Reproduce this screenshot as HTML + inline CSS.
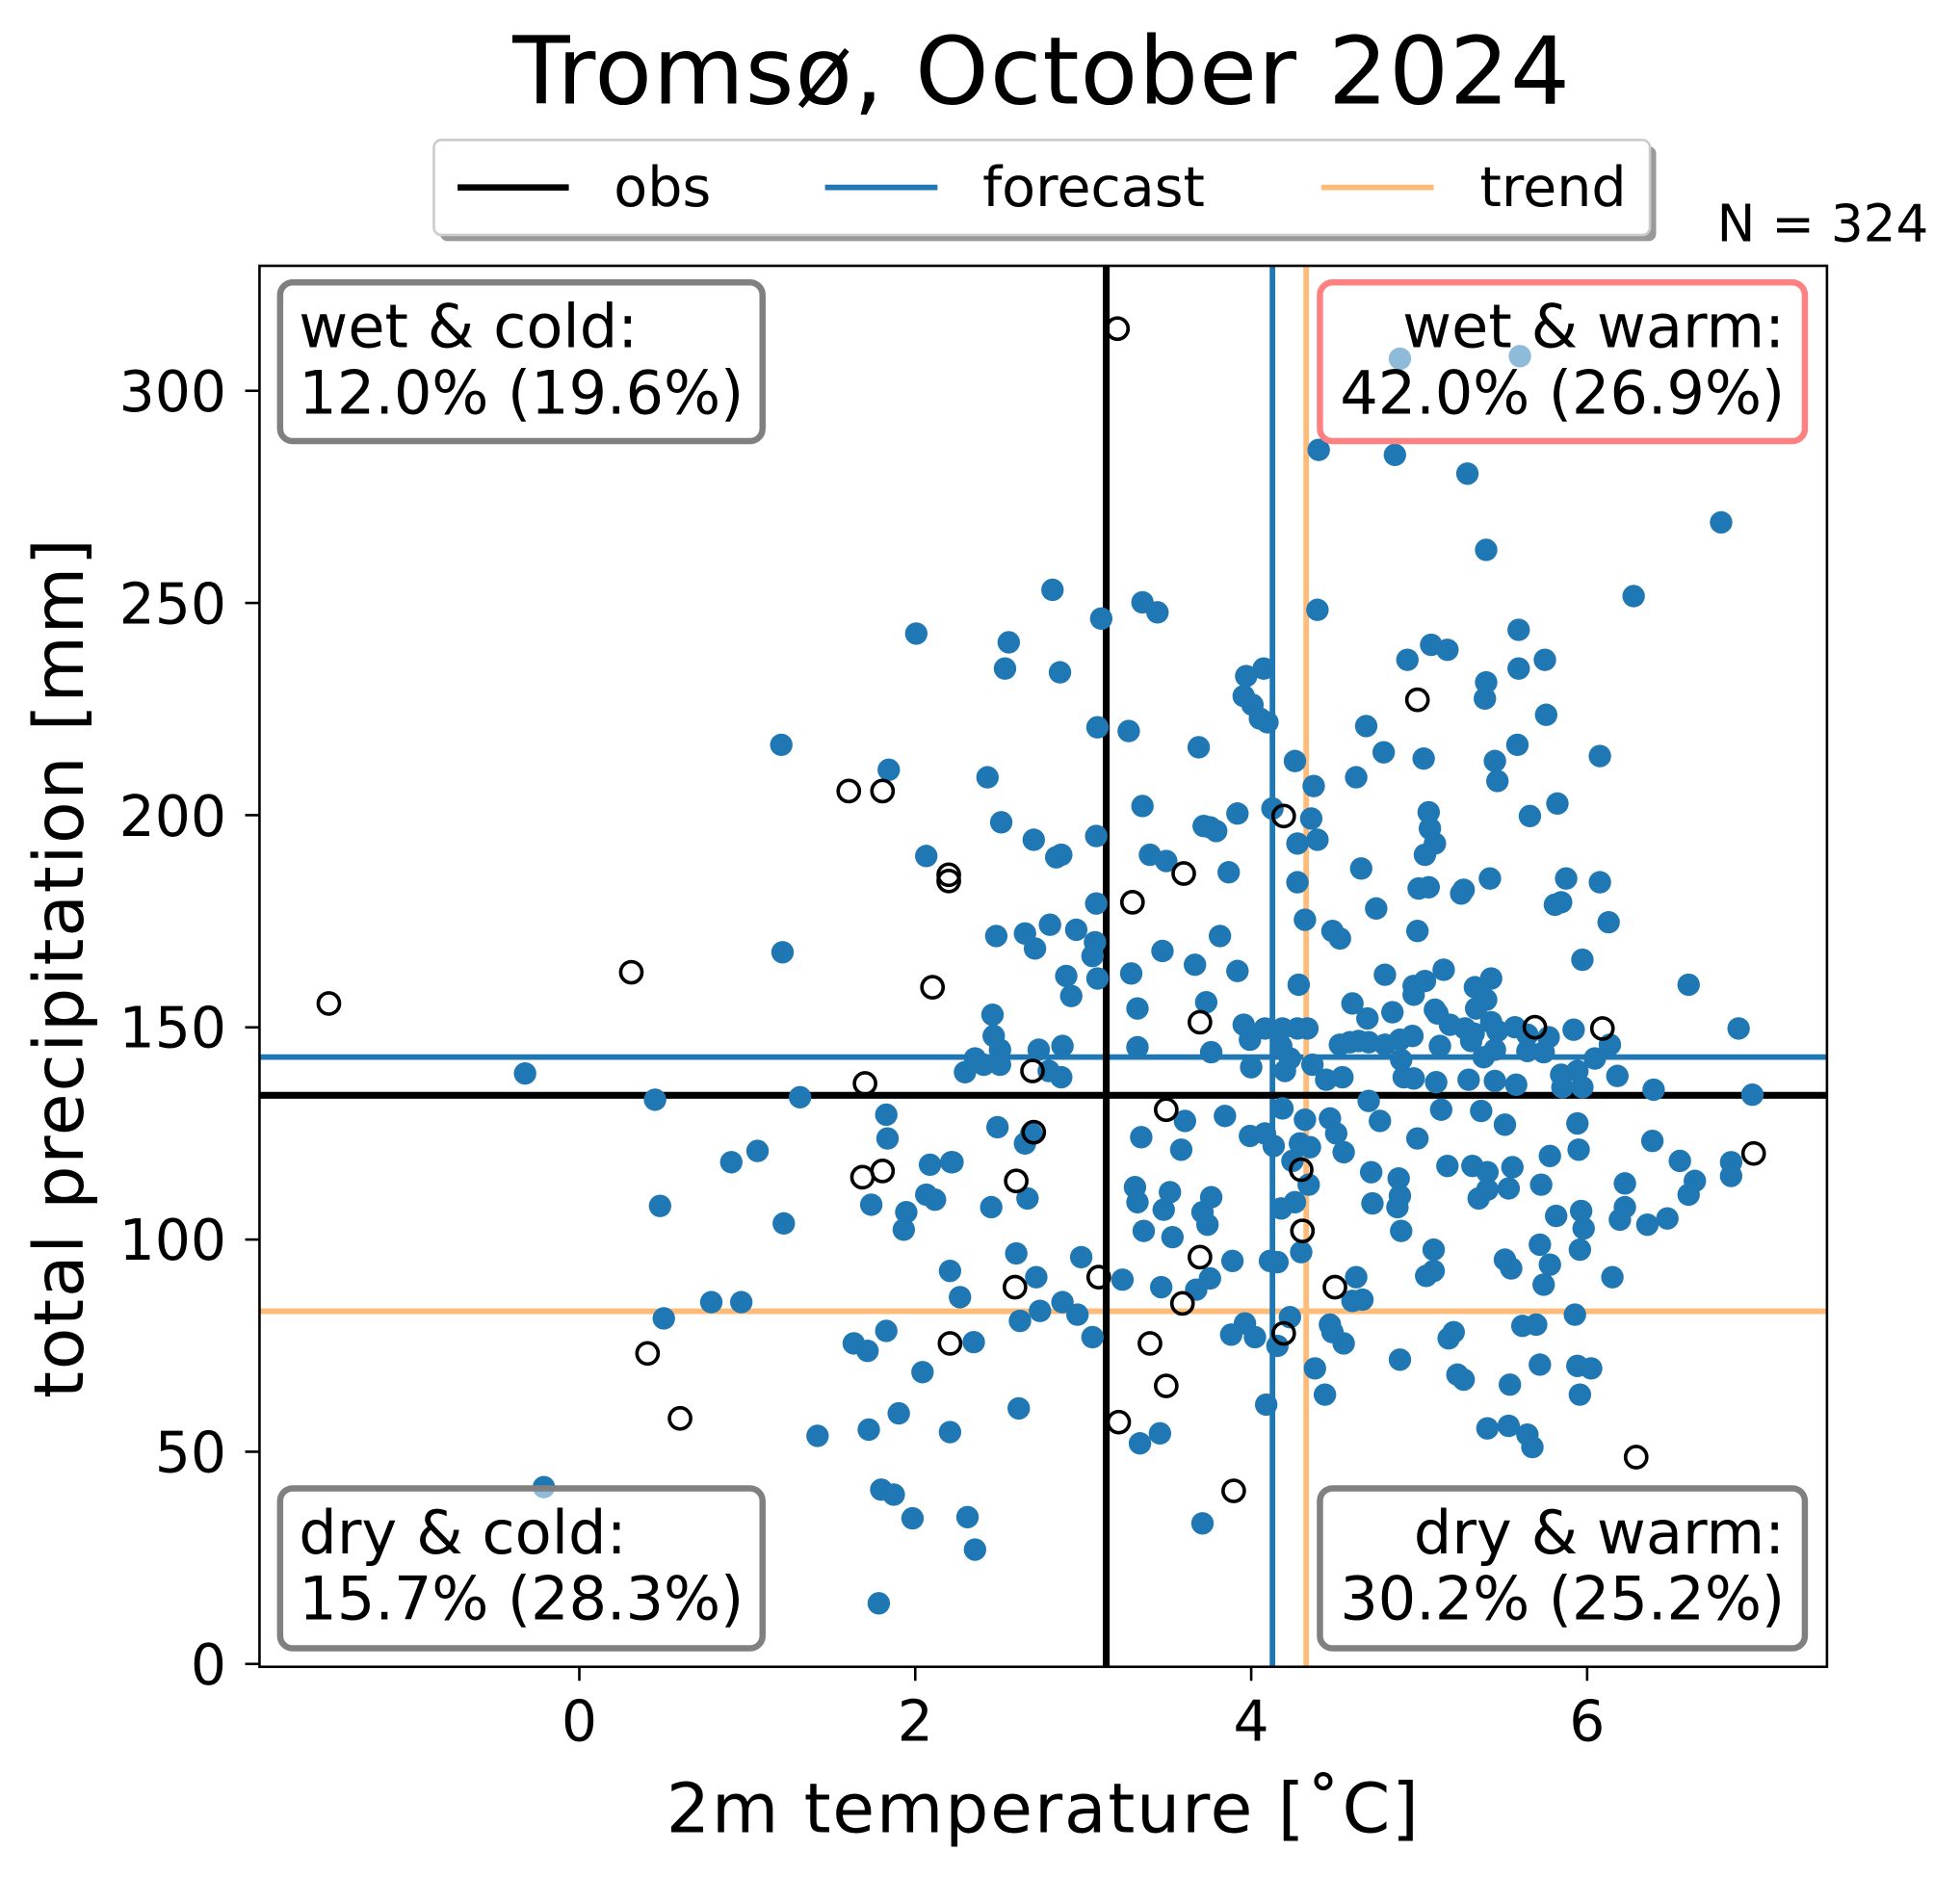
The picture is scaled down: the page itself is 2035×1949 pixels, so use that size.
<!DOCTYPE html>
<html><head><meta charset="utf-8"><style>html,body{margin:0;padding:0;background:#fff}svg{display:block}</style></head>
<body>
<svg width="2035" height="1949" viewBox="0 0 1568 1502" xmlns="http://www.w3.org/2000/svg" font-family="DejaVu Sans, Liberation Sans, sans-serif">
<rect width="1568" height="1502" fill="#fff"/>
<text x="833" y="83" font-size="75" text-anchor="middle" textLength="846">Tromsø, October 2024</text>
<!-- legend -->
<rect x="352" y="117" width="973" height="76" rx="6" fill="#999"/>
<rect x="347" y="112" width="973" height="76" rx="6" fill="#fff" stroke="#ccc" stroke-width="2"/>
<line x1="366" y1="150" x2="455" y2="150" stroke="#000" stroke-width="5"/>
<text x="491" y="165" font-size="44">obs</text>
<line x1="660" y1="150" x2="750" y2="150" stroke="#1f77b4" stroke-width="4.5"/>
<text x="786" y="165" font-size="44">forecast</text>
<line x1="1057" y1="150" x2="1147" y2="150" stroke="#ffbb78" stroke-width="4.5"/>
<text x="1184" y="165" font-size="44">trend</text>
<text x="1543" y="193" font-size="41" text-anchor="end">N = 324</text>
<!-- lines -->
<g stroke-width="4.5">
<line x1="207.5" y1="845.9" x2="1461.7" y2="845.9" stroke="#1f77b4"/>
<line x1="207.5" y1="1049.3" x2="1461.7" y2="1049.3" stroke="#ffbb78"/>
<line x1="1018" y1="212.7" x2="1018" y2="1333.8" stroke="#1f77b4"/>
<line x1="1045" y1="212.7" x2="1045" y2="1333.8" stroke="#ffbb78"/>
<line x1="207.5" y1="876.5" x2="1461.7" y2="876.5" stroke="#000" stroke-width="5.5"/>
<line x1="885" y1="212.7" x2="885" y2="1333.8" stroke="#000" stroke-width="5.5"/>
</g>
<!-- points -->
<g fill="#1f77b4">
<circle cx="1120" cy="287" r="9"/><circle cx="1216" cy="285" r="9"/><circle cx="1055" cy="360" r="9"/><circle cx="1116" cy="364" r="9"/><circle cx="1174" cy="379" r="9"/><circle cx="1377" cy="418" r="9"/><circle cx="1189" cy="440" r="9"/><circle cx="842" cy="472" r="9"/><circle cx="914" cy="482" r="9"/><circle cx="926" cy="490" r="9"/><circle cx="1054" cy="488" r="9"/><circle cx="881" cy="495" r="9"/><circle cx="1307" cy="477" r="9"/><circle cx="733" cy="507" r="9"/><circle cx="807" cy="514" r="9"/><circle cx="1145" cy="516" r="9"/><circle cx="1158" cy="520" r="9"/><circle cx="1126" cy="528" r="9"/><circle cx="1215" cy="504" r="9"/><circle cx="1236" cy="528" r="9"/><circle cx="804" cy="535" r="9"/><circle cx="848" cy="538" r="9"/><circle cx="1189" cy="546" r="9"/><circle cx="997" cy="541" r="9"/><circle cx="1011" cy="535" r="9"/><circle cx="995" cy="557" r="9"/><circle cx="1002" cy="564" r="9"/><circle cx="1008" cy="575" r="9"/><circle cx="1014" cy="578" r="9"/><circle cx="1093" cy="581" r="9"/><circle cx="1215" cy="535" r="9"/><circle cx="1188" cy="559" r="9"/><circle cx="1237" cy="572" r="9"/><circle cx="878" cy="582" r="9"/><circle cx="903" cy="585" r="9"/><circle cx="625" cy="596" r="9"/><circle cx="711" cy="616" r="9"/><circle cx="959" cy="598" r="9"/><circle cx="1196" cy="609" r="9"/><circle cx="1214" cy="596" r="9"/><circle cx="1280" cy="605" r="9"/><circle cx="1036" cy="609" r="9"/><circle cx="1139" cy="607" r="9"/><circle cx="1107" cy="602" r="9"/><circle cx="1198" cy="625" r="9"/><circle cx="790" cy="622" r="9"/><circle cx="914" cy="645" r="9"/><circle cx="1051" cy="629" r="9"/><circle cx="1085" cy="622" r="9"/><circle cx="1018" cy="647" r="9"/><circle cx="990" cy="651" r="9"/><circle cx="963" cy="661" r="9"/><circle cx="1049" cy="655" r="9"/><circle cx="1143" cy="650" r="9"/><circle cx="1144" cy="663" r="9"/><circle cx="1148" cy="675" r="9"/><circle cx="1224" cy="653" r="9"/><circle cx="1246" cy="643" r="9"/><circle cx="801" cy="658" r="9"/><circle cx="741" cy="685" r="9"/><circle cx="827" cy="672" r="9"/><circle cx="849" cy="684" r="9"/><circle cx="845" cy="686" r="9"/><circle cx="877" cy="669" r="9"/><circle cx="920" cy="684" r="9"/><circle cx="933" cy="689" r="9"/><circle cx="968" cy="662" r="9"/><circle cx="973" cy="665" r="9"/><circle cx="983" cy="698" r="9"/><circle cx="1038" cy="675" r="9"/><circle cx="1054" cy="672" r="9"/><circle cx="1089" cy="695" r="9"/><circle cx="1140" cy="684" r="9"/><circle cx="1135" cy="711" r="9"/><circle cx="1143" cy="710" r="9"/><circle cx="1169" cy="715" r="9"/><circle cx="1171" cy="712" r="9"/><circle cx="1192" cy="703" r="9"/><circle cx="1253" cy="703" r="9"/><circle cx="1280" cy="706" r="9"/><circle cx="1038" cy="706" r="9"/><circle cx="1101" cy="727" r="9"/><circle cx="1134" cy="745" r="9"/><circle cx="797" cy="749" r="9"/><circle cx="820" cy="747" r="9"/><circle cx="828" cy="759" r="9"/><circle cx="840" cy="740" r="9"/><circle cx="861" cy="744" r="9"/><circle cx="876" cy="754" r="9"/><circle cx="877" cy="723" r="9"/><circle cx="874" cy="765" r="9"/><circle cx="976" cy="749" r="9"/><circle cx="930" cy="761" r="9"/><circle cx="1044" cy="736" r="9"/><circle cx="1066" cy="745" r="9"/><circle cx="1072" cy="751" r="9"/><circle cx="1287" cy="738" r="9"/><circle cx="1244" cy="724" r="9"/><circle cx="1249" cy="722" r="9"/><circle cx="626" cy="762" r="9"/><circle cx="853" cy="781" r="9"/><circle cx="878" cy="783" r="9"/><circle cx="905" cy="779" r="9"/><circle cx="956" cy="772" r="9"/><circle cx="990" cy="777" r="9"/><circle cx="1039" cy="788" r="9"/><circle cx="1108" cy="780" r="9"/><circle cx="1131" cy="789" r="9"/><circle cx="1140" cy="785" r="9"/><circle cx="1155" cy="776" r="9"/><circle cx="1180" cy="790" r="9"/><circle cx="1193" cy="783" r="9"/><circle cx="1266" cy="768" r="9"/><circle cx="1351" cy="788" r="9"/><circle cx="1189" cy="800" r="9"/><circle cx="1131" cy="796" r="9"/><circle cx="1181" cy="807" r="9"/><circle cx="1179" cy="827" r="9"/><circle cx="1193" cy="818" r="9"/><circle cx="1114" cy="810" r="9"/><circle cx="1082" cy="803" r="9"/><circle cx="1094" cy="815" r="9"/><circle cx="794" cy="812" r="9"/><circle cx="857" cy="797" r="9"/><circle cx="910" cy="807" r="9"/><circle cx="965" cy="802" r="9"/><circle cx="995" cy="820" r="9"/><circle cx="1012" cy="823" r="9"/><circle cx="1026" cy="823" r="9"/><circle cx="1038" cy="823" r="9"/><circle cx="1046" cy="823" r="9"/><circle cx="1072" cy="836" r="9"/><circle cx="1080" cy="834" r="9"/><circle cx="1095" cy="834" r="9"/><circle cx="1108" cy="836" r="9"/><circle cx="1120" cy="832" r="9"/><circle cx="1130" cy="829" r="9"/><circle cx="1150" cy="811" r="9"/><circle cx="1160" cy="820" r="9"/><circle cx="1172" cy="823" r="9"/><circle cx="1177" cy="833" r="9"/><circle cx="1198" cy="825" r="9"/><circle cx="1212" cy="822" r="9"/><circle cx="1222" cy="828" r="9"/><circle cx="1239" cy="830" r="9"/><circle cx="1259" cy="824" r="9"/><circle cx="1288" cy="836" r="9"/><circle cx="1391" cy="823" r="9"/><circle cx="1235" cy="842" r="9"/><circle cx="1196" cy="840" r="9"/><circle cx="1262" cy="857" r="9"/><circle cx="1249" cy="860" r="9"/><circle cx="1276" cy="847" r="9"/><circle cx="1148" cy="808" r="9"/><circle cx="795" cy="829" r="9"/><circle cx="850" cy="837" r="9"/><circle cx="831" cy="840" r="9"/><circle cx="800" cy="840" r="9"/><circle cx="780" cy="847" r="9"/><circle cx="772" cy="858" r="9"/><circle cx="839" cy="857" r="9"/><circle cx="800" cy="852" r="9"/><circle cx="787" cy="852" r="9"/><circle cx="910" cy="838" r="9"/><circle cx="969" cy="842" r="9"/><circle cx="1000" cy="832" r="9"/><circle cx="1025" cy="837" r="9"/><circle cx="1001" cy="854" r="9"/><circle cx="1050" cy="852" r="9"/><circle cx="1032" cy="847" r="9"/><circle cx="1087" cy="833" r="9"/><circle cx="1121" cy="848" r="9"/><circle cx="1123" cy="862" r="9"/><circle cx="1152" cy="837" r="9"/><circle cx="1187" cy="846" r="9"/><circle cx="1196" cy="865" r="9"/><circle cx="1222" cy="841" r="9"/>
<circle cx="420" cy="859" r="9"/><circle cx="524" cy="880" r="9"/><circle cx="640" cy="878" r="9"/><circle cx="849" cy="862" r="9"/><circle cx="1028" cy="857" r="9"/><circle cx="1061" cy="864" r="9"/><circle cx="1095" cy="881" r="9"/><circle cx="1074" cy="862" r="9"/><circle cx="1131" cy="863" r="9"/><circle cx="1149" cy="866" r="9"/><circle cx="1175" cy="864" r="9"/><circle cx="1213" cy="868" r="9"/><circle cx="1250" cy="870" r="9"/><circle cx="1323" cy="872" r="9"/><circle cx="1402" cy="876" r="9"/><circle cx="1266" cy="870" r="9"/><circle cx="1153" cy="888" r="9"/><circle cx="1026" cy="887" r="9"/><circle cx="1044" cy="896" r="9"/><circle cx="1064" cy="895" r="9"/><circle cx="1104" cy="897" r="9"/><circle cx="1185" cy="889" r="9"/><circle cx="1204" cy="900" r="9"/><circle cx="1262" cy="899" r="9"/><circle cx="1294" cy="861" r="9"/><circle cx="980" cy="893" r="9"/><circle cx="948" cy="897" r="9"/><circle cx="913" cy="910" r="9"/><circle cx="798" cy="902" r="9"/><circle cx="825" cy="907" r="9"/><circle cx="709" cy="892" r="9"/><circle cx="606" cy="921" r="9"/><circle cx="585" cy="930" r="9"/><circle cx="710" cy="911" r="9"/><circle cx="744" cy="932" r="9"/><circle cx="761" cy="930" r="9"/><circle cx="820" cy="915" r="9"/><circle cx="1040" cy="915" r="9"/><circle cx="1048" cy="918" r="9"/><circle cx="1069" cy="907" r="9"/><circle cx="1075" cy="922" r="9"/><circle cx="1134" cy="911" r="9"/><circle cx="1158" cy="933" r="9"/><circle cx="1178" cy="933" r="9"/><circle cx="1190" cy="938" r="9"/><circle cx="1210" cy="934" r="9"/><circle cx="1240" cy="925" r="9"/><circle cx="1263" cy="920" r="9"/><circle cx="1344" cy="929" r="9"/><circle cx="1385" cy="930" r="9"/><circle cx="1356" cy="945" r="9"/><circle cx="1385" cy="941" r="9"/><circle cx="1000" cy="909" r="9"/><circle cx="1012" cy="907" r="9"/><circle cx="1019" cy="917" r="9"/><circle cx="1034" cy="929" r="9"/><circle cx="1097" cy="938" r="9"/><circle cx="1119" cy="943" r="9"/><circle cx="1098" cy="963" r="9"/><circle cx="1120" cy="957" r="9"/><circle cx="1190" cy="952" r="9"/><circle cx="1183" cy="959" r="9"/><circle cx="1207" cy="951" r="9"/><circle cx="1233" cy="948" r="9"/><circle cx="1322" cy="913" r="9"/><circle cx="1265" cy="969" r="9"/><circle cx="1245" cy="973" r="9"/><circle cx="1267" cy="983" r="9"/><circle cx="1296" cy="976" r="9"/><circle cx="1318" cy="980" r="9"/><circle cx="1351" cy="956" r="9"/><circle cx="1300" cy="947" r="9"/><circle cx="1300" cy="966" r="9"/><circle cx="1334" cy="975" r="9"/><circle cx="1232" cy="996" r="9"/><circle cx="1204" cy="1008" r="9"/><circle cx="1240" cy="1012" r="9"/><circle cx="1209" cy="1015" r="9"/><circle cx="1235" cy="1028" r="9"/><circle cx="1290" cy="1022" r="9"/><circle cx="1264" cy="1000" r="9"/><circle cx="1260" cy="1052" r="9"/><circle cx="1218" cy="1061" r="9"/><circle cx="1229" cy="1060" r="9"/><circle cx="1232" cy="1092" r="9"/><circle cx="1208" cy="1108" r="9"/><circle cx="1207" cy="1141" r="9"/><circle cx="1222" cy="1148" r="9"/><circle cx="1226" cy="1158" r="9"/><circle cx="1262" cy="1093" r="9"/><circle cx="1264" cy="1116" r="9"/><circle cx="1273" cy="1095" r="9"/><circle cx="1190" cy="1143" r="9"/><circle cx="1166" cy="1100" r="9"/><circle cx="1171" cy="1104" r="9"/><circle cx="1159" cy="1071" r="9"/><circle cx="1163" cy="1066" r="9"/><circle cx="1147" cy="1017" r="9"/><circle cx="1147" cy="1000" r="9"/><circle cx="1141" cy="1021" r="9"/><circle cx="1121" cy="985" r="9"/><circle cx="1118" cy="966" r="9"/><circle cx="1120" cy="1088" r="9"/><circle cx="1082" cy="1041" r="9"/><circle cx="1085" cy="1022" r="9"/><circle cx="1090" cy="1040" r="9"/><circle cx="1075" cy="1075" r="9"/><circle cx="1064" cy="1060" r="9"/><circle cx="1066" cy="1066" r="9"/><circle cx="1060" cy="1116" r="9"/><circle cx="1052" cy="1095" r="9"/><circle cx="1032" cy="1054" r="9"/><circle cx="1016" cy="1009" r="9"/><circle cx="1004" cy="1070" r="9"/><circle cx="996" cy="1059" r="9"/><circle cx="985" cy="1068" r="9"/><circle cx="986" cy="1009" r="9"/><circle cx="969" cy="958" r="9"/><circle cx="966" cy="980" r="9"/><circle cx="968" cy="1023" r="9"/><circle cx="962" cy="970" r="9"/><circle cx="945" cy="920" r="9"/><circle cx="936" cy="954" r="9"/><circle cx="908" cy="950" r="9"/><circle cx="910" cy="962" r="9"/><circle cx="931" cy="968" r="9"/><circle cx="915" cy="985" r="9"/><circle cx="938" cy="990" r="9"/><circle cx="957" cy="1032" r="9"/><circle cx="929" cy="1030" r="9"/><circle cx="912" cy="1155" r="9"/><circle cx="928" cy="1147" r="9"/><circle cx="962" cy="1219" r="9"/><circle cx="898" cy="1024" r="9"/><circle cx="862" cy="1052" r="9"/><circle cx="865" cy="1006" r="9"/><circle cx="874" cy="1070" r="9"/><circle cx="850" cy="1042" r="9"/><circle cx="829" cy="1022" r="9"/><circle cx="832" cy="1049" r="9"/><circle cx="816" cy="1057" r="9"/><circle cx="815" cy="1127" r="9"/><circle cx="813" cy="1003" r="9"/><circle cx="822" cy="959" r="9"/><circle cx="793" cy="966" r="9"/><circle cx="779" cy="1074" r="9"/><circle cx="774" cy="1214" r="9"/><circle cx="780" cy="1240" r="9"/><circle cx="768" cy="1038" r="9"/><circle cx="762" cy="930" r="9"/><circle cx="760" cy="1017" r="9"/><circle cx="760" cy="1146" r="9"/><circle cx="748" cy="960" r="9"/><circle cx="741" cy="956" r="9"/><circle cx="738" cy="1098" r="9"/><circle cx="730" cy="1215" r="9"/><circle cx="725" cy="970" r="9"/><circle cx="723" cy="984" r="9"/><circle cx="719" cy="1131" r="9"/><circle cx="715" cy="1196" r="9"/><circle cx="705" cy="1192" r="9"/><circle cx="709" cy="1065" r="9"/><circle cx="695" cy="1144" r="9"/><circle cx="694" cy="1081" r="9"/><circle cx="683" cy="1075" r="9"/><circle cx="697" cy="964" r="9"/><circle cx="703" cy="1283" r="9"/><circle cx="654" cy="1149" r="9"/><circle cx="627" cy="979" r="9"/><circle cx="593" cy="1042" r="9"/><circle cx="569" cy="1042" r="9"/><circle cx="531" cy="1055" r="9"/><circle cx="528" cy="965" r="9"/><circle cx="435" cy="1190" r="9"/><circle cx="1041" cy="1002" r="9"/><circle cx="1022" cy="1010" r="9"/><circle cx="1025" cy="967" r="9"/><circle cx="1036" cy="962" r="9"/><circle cx="1047" cy="948" r="9"/><circle cx="1013" cy="1124" r="9"/><circle cx="1022" cy="1077" r="9"/>
</g>
<g fill="none" stroke="#000" stroke-width="2.8">
<circle cx="894" cy="263" r="8.5"/><circle cx="1134" cy="560" r="8.5"/><circle cx="679" cy="633" r="8.5"/><circle cx="706" cy="633" r="8.5"/><circle cx="1027" cy="653" r="8.5"/><circle cx="759" cy="700" r="8.5"/><circle cx="759" cy="705" r="8.5"/><circle cx="947" cy="699" r="8.5"/><circle cx="906" cy="722" r="8.5"/><circle cx="505" cy="778" r="8.5"/><circle cx="746" cy="790" r="8.5"/><circle cx="263" cy="803" r="8.5"/><circle cx="960" cy="818" r="8.5"/><circle cx="1228" cy="822" r="8.5"/><circle cx="1282" cy="823" r="8.5"/><circle cx="826" cy="857" r="8.5"/><circle cx="692" cy="867" r="8.5"/><circle cx="933" cy="888" r="8.5"/><circle cx="827" cy="906" r="8.5"/><circle cx="1041" cy="936" r="8.5"/><circle cx="690" cy="942" r="8.5"/><circle cx="706" cy="937" r="8.5"/><circle cx="813" cy="945" r="8.5"/><circle cx="1403" cy="923" r="8.5"/><circle cx="1042" cy="985" r="8.5"/><circle cx="960" cy="1006" r="8.5"/><circle cx="879" cy="1022" r="8.5"/><circle cx="812" cy="1030" r="8.5"/><circle cx="1068" cy="1030" r="8.5"/><circle cx="946" cy="1043" r="8.5"/><circle cx="1027" cy="1067" r="8.5"/><circle cx="760" cy="1075" r="8.5"/><circle cx="920" cy="1075" r="8.5"/><circle cx="518" cy="1083" r="8.5"/><circle cx="933" cy="1109" r="8.5"/><circle cx="544" cy="1135" r="8.5"/><circle cx="895" cy="1138" r="8.5"/><circle cx="1309" cy="1166" r="8.5"/><circle cx="987" cy="1193" r="8.5"/>
</g>
<!-- quadrant boxes -->
<g stroke-width="5" fill="#fff" fill-opacity="0.5">
<rect x="224" y="226" width="386" height="127" rx="10" stroke="#808080"/>
<rect x="1056" y="226" width="388" height="127" rx="10" stroke="#ff8080"/>
<rect x="224" y="1191" width="386" height="128" rx="10" stroke="#808080"/>
<rect x="1056" y="1191" width="388" height="128" rx="10" stroke="#808080"/>
</g>
<g font-size="48">
<text x="239" y="278">wet &amp; cold:</text>
<text x="239" y="331" textLength="356">12.0% (19.6%)</text>
<text x="1428" y="278" text-anchor="end">wet &amp; warm:</text>
<text x="1428" y="331" text-anchor="end" textLength="356">42.0% (26.9%)</text>
<text x="239" y="1243">dry &amp; cold:</text>
<text x="239" y="1296" textLength="356">15.7% (28.3%)</text>
<text x="1428" y="1243" text-anchor="end">dry &amp; warm:</text>
<text x="1428" y="1296" text-anchor="end" textLength="356">30.2% (25.2%)</text>
</g>
<!-- axes frame -->
<rect x="207.5" y="212.7" width="1254.2" height="1121.1" fill="none" stroke="#000" stroke-width="2"/>
<g stroke="#000" stroke-width="2">
<line x1="463.4" y1="1333.8" x2="463.4" y2="1345"/><line x1="732.2" y1="1333.8" x2="732.2" y2="1345"/><line x1="1001" y1="1333.8" x2="1001" y2="1345"/><line x1="1269.8" y1="1333.8" x2="1269.8" y2="1345"/>
<line x1="196" y1="1331.5" x2="207.5" y2="1331.5"/><line x1="196" y1="1161.7" x2="207.5" y2="1161.7"/><line x1="196" y1="991.9" x2="207.5" y2="991.9"/><line x1="196" y1="822.1" x2="207.5" y2="822.1"/><line x1="196" y1="652.3" x2="207.5" y2="652.3"/><line x1="196" y1="482.5" x2="207.5" y2="482.5"/><line x1="196" y1="312.7" x2="207.5" y2="312.7"/>
</g>
<g font-size="45" text-anchor="middle">
<text x="463.4" y="1393">0</text><text x="732.2" y="1393">2</text><text x="1001" y="1393">4</text><text x="1269.8" y="1393">6</text>
</g>
<g font-size="45" text-anchor="end">
<text x="181" y="1348">0</text><text x="181" y="1178">50</text><text x="181" y="1008">100</text><text x="181" y="838">150</text><text x="181" y="669">200</text><text x="181" y="499">250</text><text x="181" y="329">300</text>
</g>
<text x="834" y="1466" font-size="55" text-anchor="middle" textLength="602">2m temperature [˚C]</text>
<text transform="translate(66,775) rotate(-90)" font-size="55" text-anchor="middle" textLength="688">total precipitation [mm]</text>
</svg>
</body></html>
